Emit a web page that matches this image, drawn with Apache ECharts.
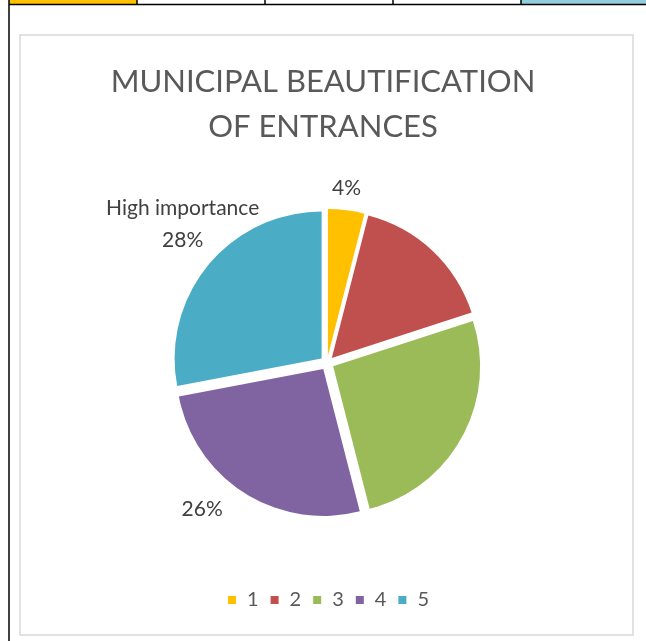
<!DOCTYPE html>
<html>
<head>
<meta charset="utf-8">
<script src="https://cdn.jsdelivr.net/npm/echarts@6.0.0/dist/echarts.min.js"></script>
<style>
  html, body { margin: 0; padding: 0; background: #fff; }
  #container { width: 646px; height: 641px; }
</style>
</head>
<body>
<div id="container"></div>
<script>
var categories = ['1', '2', '3', '4', '5'];
var values = [4, 16, 26, 26, 28];
var labelTexts = ['4%', '', '', '26%', 'High importance\n28%'];
var colors = ['#FFC000', '#C0504D', '#9BBB59', '#8064A2', '#4BACC6'];
// nudges for the data labels (Excel places them a bit differently)
var labelShift = [[-6, -12], [0, 0], [0, 0], [-32, 8], [-13, -34]];

var myChart = echarts.init(document.getElementById('container'));

var pieData = categories.map(function (name, i) {
    return {
        name: name,
        value: values[i],
        selected: true,
        itemStyle: { color: colors[i] },
        label: { show: labelTexts[i] !== '', formatter: labelTexts[i] }
    };
});

var option = {
    animation: false,
    textStyle: { fontFamily: 'Lato' },
    title: {
        text: 'MUNICIPAL BEAUTIFICATION\nOF ENTRANCES',
        left: 'center',
        top: 54,
        textStyle: {
            color: '#595959',
            fontSize: 31,
            fontWeight: 'normal',
            fontFamily: 'Lato',
            lineHeight: 45
        }
    },
    legend: {
        data: categories,
        bottom: 31,
        left: 228,
        padding: 0,
        icon: 'rect',
        itemWidth: 8,
        itemHeight: 8,
        itemGap: 12,
        textStyle: { color: '#595959', fontSize: 20, fontFamily: 'Lato', padding: [0, 0, 0, 6] },
        selectedMode: false
    },
    graphic: [
        { type: 'rect', shape: { x: 9, y: 0, width: 128, height: 4 }, style: { fill: '#FFC000' } },
        { type: 'rect', shape: { x: 521, y: 0, width: 125, height: 4 }, style: { fill: '#92CDDC' } },
        { type: 'line', shape: { x1: 9, y1: 4.5, x2: 646, y2: 4.5 }, style: { stroke: '#000', lineWidth: 1.5 } },
        { type: 'line', shape: { x1: 9, y1: 0, x2: 9, y2: 641 }, style: { stroke: '#000', lineWidth: 1.5 } },
        { type: 'line', shape: { x1: 137, y1: 0, x2: 137, y2: 5 }, style: { stroke: '#000', lineWidth: 1.5 } },
        { type: 'line', shape: { x1: 265, y1: 0, x2: 265, y2: 5 }, style: { stroke: '#000', lineWidth: 1.5 } },
        { type: 'line', shape: { x1: 393, y1: 0, x2: 393, y2: 5 }, style: { stroke: '#000', lineWidth: 1.5 } },
        { type: 'line', shape: { x1: 521, y1: 0, x2: 521, y2: 5 }, style: { stroke: '#000', lineWidth: 1.5 } },
        { type: 'rect', shape: { x: 20, y: 35, width: 613, height: 600 }, style: { fill: 'none', stroke: '#D9D9D9', lineWidth: 1.5 } }
    ],
    series: [
        {
            name: 'Municipal beautification of entrances',
            type: 'pie',
            center: [327, 363],
            radius: 147,
            startAngle: 90,
            clockwise: true,
            selectedMode: 'multiple',
            selectedOffset: 7,
            emphasis: { disabled: true },
            label: {
                position: 'outside',
                color: '#404040',
                fontSize: 21,
                fontFamily: 'Lato',
                lineHeight: 32
            },
            labelLine: { show: false, length: 10, length2: 0 },
            labelLayout: function (params) {
                var s = labelShift[params.dataIndex];
                return { dx: s[0], dy: s[1], align: 'center' };
            },
            data: pieData
        }
    ]
};

myChart.setOption(option);
window.onresize = function () {
    myChart.resize();
};
</script>
</body>
</html>
